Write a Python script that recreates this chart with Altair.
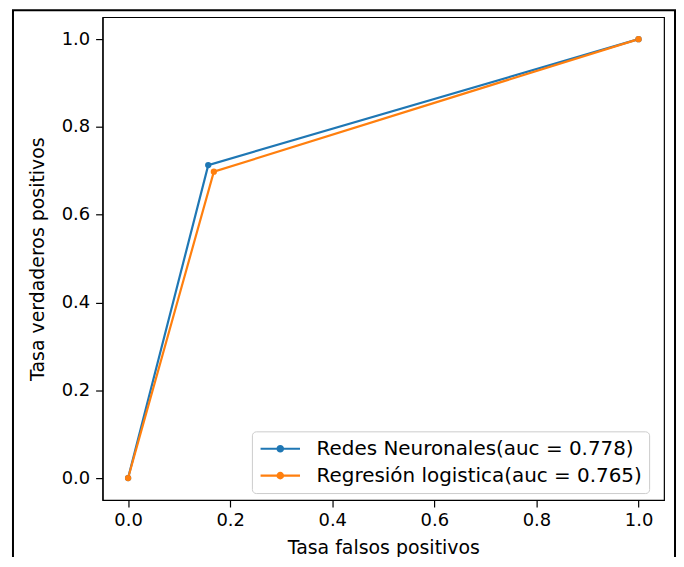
import altair as alt
import pandas as pd

series_names = ["Redes Neuronales(auc = 0.778)", "Regresión logistica(auc = 0.765)"]
fpr_redes = [0.0, 0.157, 1.0]
tpr_redes = [0.0, 0.713, 1.0]
fpr_reg = [0.0, 0.168, 1.0]
tpr_reg = [0.0, 0.698, 1.0]
colors = ["#1f77b4", "#ff7f0e"]
tick_values = [0.0, 0.2, 0.4, 0.6, 0.8, 1.0]

rows = []
for i, (xs, ys) in enumerate([(fpr_redes, tpr_redes), (fpr_reg, tpr_reg)]):
    for k, (a, b) in enumerate(zip(xs, ys)):
        rows.append({"serie": series_names[i], "fpr": a, "tpr": b, "orden": k})
df = pd.DataFrame(rows)

FONT = "DejaVu Sans"
legend_symbol = ("M-2.2,0H2.2"
                 "M-0.3,0a0.3,0.3 0 1,0 0.6,0a0.3,0.3 0 1,0 -0.6,0"
                 "M-0.15,0a0.15,0.15 0 1,0 0.3,0a0.15,0.15 0 1,0 -0.3,0")

xscale = alt.Scale(domain=[-0.05, 1.05], nice=False, zero=False)
yscale = alt.Scale(domain=[-0.05, 1.05], nice=False, zero=False)

lines = alt.Chart(df).mark_line(
    strokeWidth=2.2,
    point=alt.OverlayMarkDef(filled=True, size=40),
).encode(
    x=alt.X("fpr:Q", scale=xscale,
            axis=alt.Axis(values=tick_values, format=".1f", title="Tasa falsos positivos",
                          titlePadding=9, labelPadding=5)),
    y=alt.Y("tpr:Q", scale=yscale,
            axis=alt.Axis(values=tick_values, format=".1f", title="Tasa verdaderos positivos",
                          titlePadding=14, labelPadding=6)),
    color=alt.Color("serie:N",
                    scale=alt.Scale(domain=series_names, range=colors),
                    legend=alt.Legend(title=None, orient="none", legendX=150, legendY=416,
                                      symbolType=legend_symbol, symbolSize=324,
                                      symbolOffset=11,
                                      symbolStrokeWidth=2.2, labelFontSize=20, labelFont=FONT,
                                      labelColor="#000", rowPadding=6, labelOffset=26,
                                      fillColor="white", strokeColor="#cccccc",
                                      cornerRadius=4, padding=7, labelLimit=400)),
    order="orden:Q",
)

frame = alt.Chart(pd.DataFrame({"k": [0]})).mark_rect(
    fill=None, stroke="black", strokeWidth=2
).encode(x=alt.value(-90), x2=alt.value(575), y=alt.value(-7), y2=alt.value(600))

chart = alt.layer(frame, lines).properties(
    width=564, height=485,
    autosize=alt.AutoSizeParams(type="none"),
    padding={"left": 95, "top": 8, "right": 12, "bottom": 56},
).configure_view(
    stroke="black", strokeWidth=1.2
).configure_axis(
    grid=False, domainColor="black", tickColor="black", tickSize=7,
    labelFont=FONT, titleFont=FONT, labelFontSize=18, titleFontSize=19,
    labelColor="#000", titleColor="#000", titleFontWeight="normal",
    domainWidth=1.2, tickWidth=1.2,
)

chart.save("out.html", embed_options={"renderer": "svg", "actions": False})
